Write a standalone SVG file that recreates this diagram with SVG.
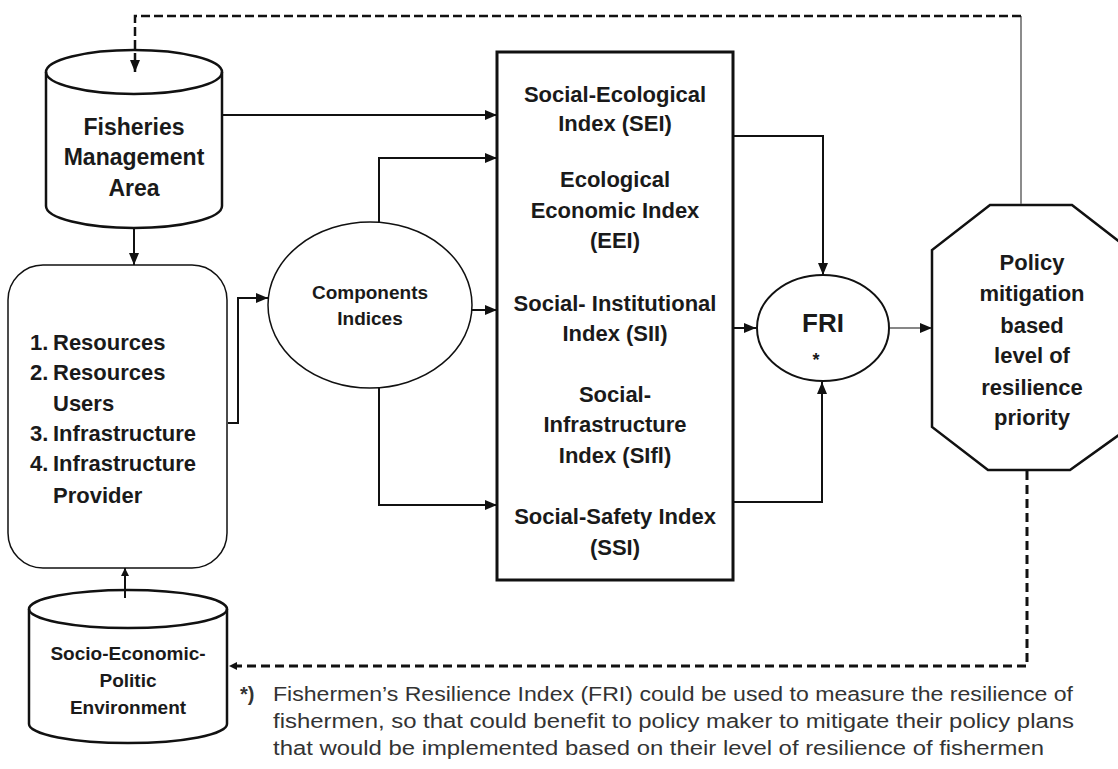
<svg xmlns="http://www.w3.org/2000/svg" width="1118" height="769" viewBox="0 0 1118 769">
<defs>
<marker id="ah" viewBox="0 0 12 10" refX="12" refY="5" markerWidth="12" markerHeight="10" markerUnits="userSpaceOnUse" orient="auto">
<path d="M0,0 L12,5 L0,10 z" fill="#111"/>
</marker>
<marker id="ahs" viewBox="0 0 8 8" refX="8" refY="4" markerWidth="8" markerHeight="8" markerUnits="userSpaceOnUse" orient="auto">
<path d="M0,0 L8,4 L0,8 z" fill="#111"/>
</marker>
<style>
.t{font-family:"Liberation Sans",Arial,sans-serif;font-weight:bold;fill:#1a1a1a;text-anchor:middle}
.l{font-family:"Liberation Sans",Arial,sans-serif;font-weight:bold;fill:#1a1a1a}
.n{font-family:"Liberation Sans",Arial,sans-serif;fill:#333}
.c{fill:none;stroke:#111;stroke-width:2}
.shape{fill:#fff;stroke:#111}
</style>
</defs>
<rect width="1118" height="769" fill="#fff"/>

<g id="fisheries-management-area">
<path class="shape" stroke-width="2.5" d="M46,72 A88,22 0 0 1 222,72 V206 A88,22 0 0 1 46,206 Z"/>
<path fill="none" stroke="#111" stroke-width="2.5" d="M46,72 A88,22 0 0 0 222,72"/>
<text class="t" font-size="23" x="134" y="135">Fisheries</text>
<text class="t" font-size="23" x="134" y="165">Management</text>
<text class="t" font-size="23" x="134" y="196">Area</text>
</g>

<g id="resources-list">
<rect class="shape" stroke-width="1.5" x="8" y="265" width="219" height="303" rx="35" ry="35"/>
<text class="l" font-size="22" x="30" y="350">1.</text><text class="l" font-size="22" x="53" y="350">Resources</text>
<text class="l" font-size="22" x="30" y="380">2.</text><text class="l" font-size="22" x="53" y="380">Resources</text>
<text class="l" font-size="22" x="53" y="411">Users</text>
<text class="l" font-size="22" x="30" y="441">3.</text><text class="l" font-size="22" x="53" y="441">Infrastructure</text>
<text class="l" font-size="22" x="30" y="471">4.</text><text class="l" font-size="22" x="53" y="471">Infrastructure</text>
<text class="l" font-size="22" x="53" y="503">Provider</text>
</g>

<g id="socio-economic-politic-environment">
<path class="shape" stroke-width="2.5" d="M29,609 A99,19 0 0 1 227,609 V724 A99,19 0 0 1 29,724 Z"/>
<path fill="none" stroke="#111" stroke-width="2.5" d="M29,609 A99,19 0 0 0 227,609"/>
<text class="t" font-size="19" x="128" y="660">Socio-Economic-</text>
<text class="t" font-size="19" x="128" y="687">Politic</text>
<text class="t" font-size="19" x="128" y="714">Environment</text>
</g>

<g id="components-indices">
<ellipse class="shape" stroke-width="1.5" cx="370" cy="305" rx="102" ry="83"/>
<text class="t" font-size="19" x="370" y="299">Components</text>
<text class="t" font-size="19" x="370" y="325">Indices</text>
</g>

<g id="indices-box">
<rect class="shape" stroke-width="3" x="497" y="52" width="236" height="528"/>
<text class="t" font-size="22" x="615" y="102">Social-Ecological</text>
<text class="t" font-size="22" x="615" y="131">Index (SEI)</text>
<text class="t" font-size="22" x="615" y="187">Ecological</text>
<text class="t" font-size="22" x="615" y="218">Economic Index</text>
<text class="t" font-size="22" x="615" y="248">(EEI)</text>
<text class="t" font-size="22" x="615" y="311">Social- Institutional</text>
<text class="t" font-size="22" x="615" y="341">Index (SII)</text>
<text class="t" font-size="22" x="615" y="402">Social-</text>
<text class="t" font-size="22" x="615" y="432">Infrastructure</text>
<text class="t" font-size="22" x="615" y="463">Index (SIfl)</text>
<text class="t" font-size="22" x="615" y="524">Social-Safety Index</text>
<text class="t" font-size="22" x="615" y="555">(SSI)</text>
</g>

<g id="fri">
<ellipse class="shape" stroke-width="2" cx="823" cy="328" rx="66" ry="53"/>
<text class="t" font-size="26" x="823" y="332">FRI</text>
<text class="t" font-size="18" x="816" y="366">*</text>
</g>

<g id="policy">
<polygon class="shape" stroke-width="2.5" points="990,205 1072,205 1130,250 1130,427 1070,470 988,470 932,427 932,250"/>
<text class="t" font-size="22" x="1032" y="270">Policy</text>
<text class="t" font-size="22" x="1032" y="301">mitigation</text>
<text class="t" font-size="22" x="1032" y="333">based</text>
<text class="t" font-size="22" x="1032" y="363">level of</text>
<text class="t" font-size="22" x="1032" y="395">resilience</text>
<text class="t" font-size="22" x="1032" y="425">priority</text>
</g>

<g id="footnote">
<text class="n" font-size="20" font-weight="bold" x="240" y="701">*)</text>
<text class="n" font-size="20" x="273" y="701" textLength="800" lengthAdjust="spacingAndGlyphs">Fishermen’s Resilience Index (FRI) could be used to measure the resilience of</text>
<text class="n" font-size="20" x="273" y="728" textLength="801" lengthAdjust="spacingAndGlyphs">fishermen, so that could benefit to policy maker to mitigate their policy plans</text>
<text class="n" font-size="20" x="273" y="755" textLength="771" lengthAdjust="spacingAndGlyphs">that would be implemented based on their level of resilience of fishermen</text>
</g>

<g id="connectors">
<path d="M1021,204 V16" fill="none" stroke="#666" stroke-width="1.5"/>
<path d="M1021,16 H135 V72" fill="none" stroke="#111" stroke-width="2.5" stroke-dasharray="9,4" marker-end="url(#ah)"/>
<path class="c" d="M223,115 H497" marker-end="url(#ah)"/>
<path class="c" d="M134,229 V265" stroke-width="2.5" marker-end="url(#ah)"/>
<path class="c" d="M125,598 V568" stroke-width="3" marker-end="url(#ahs)"/>
<path class="c" d="M228,423 H238 V298 H268" marker-end="url(#ah)"/>
<path class="c" d="M379,222 V158 H497" marker-end="url(#ah)"/>
<path class="c" d="M472,310 H497" marker-end="url(#ah)"/>
<path class="c" d="M379,388 V505 H497" marker-end="url(#ah)"/>
<path class="c" d="M734,136 H823 V275" marker-end="url(#ah)"/>
<path class="c" d="M734,328 H756" marker-end="url(#ah)"/>
<path class="c" d="M734,502 H822 V382" marker-end="url(#ah)"/>
<path d="M890,328 H932" fill="none" stroke="#111" stroke-width="1.2" marker-end="url(#ah)"/>
<path d="M1027,471 V666 H229" fill="none" stroke="#111" stroke-width="3" stroke-dasharray="9,5" marker-end="url(#ahs)"/>
</g>
</svg>
